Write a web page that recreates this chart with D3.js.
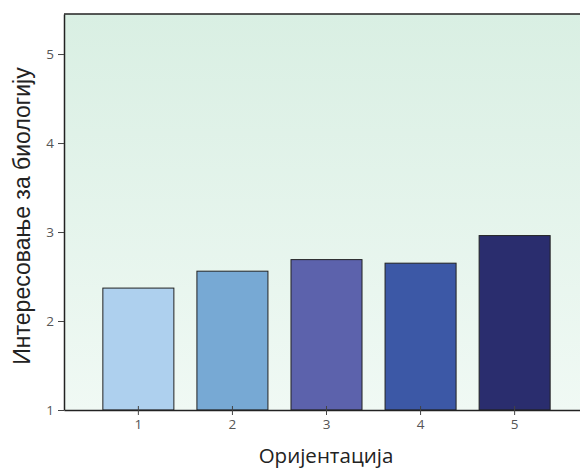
<!DOCTYPE html>
<html>
<head>
<meta charset="utf-8">
<script src="https://cdn.jsdelivr.net/npm/d3@7"></script>
<style>
  html, body { margin: 0; padding: 0; background: #fff; }
  svg { display: block; font-family: "Open Sans", "Noto Sans", sans-serif; }
</style>
</head>
<body>
<svg id="chart" width="580" height="468"></svg>
<script>
// Mean interest in biology by orientation group
const categories = ["1", "2", "3", "4", "5"];
const values = [2.37, 2.56, 2.69, 2.65, 2.96];
const barColors = ["#aed0ee", "#77a9d4", "#5c62ac", "#3c58a6", "#2a2d6e"];
const yTicks = [1, 2, 3, 4, 5];
const xTitle = "Оријентација";
const yTitle = "Интересовање за биологију";

const svg = d3.select("#chart");
const plot = { left: 64, top: 14, right: 589, bottom: 410 };

const x = d3.scaleBand()
  .domain(categories)
  .range([plot.left, plot.right])
  .paddingInner(0.245)
  .paddingOuter(0.413);

const y = d3.scaleLinear()
  .domain([1, 5.45])
  .range([plot.bottom, plot.top]);

// background gradient
const defs = svg.append("defs");
const grad = defs.append("linearGradient")
  .attr("id", "bg").attr("x1", 0).attr("y1", 0).attr("x2", 0).attr("y2", 1);
grad.append("stop").attr("offset", "0%").attr("stop-color", "#d9efe3");
grad.append("stop").attr("offset", "100%").attr("stop-color", "#f0f9f4");

svg.append("rect")
  .attr("x", plot.left).attr("y", plot.top)
  .attr("width", plot.right - plot.left)
  .attr("height", plot.bottom - plot.top)
  .attr("fill", "url(#bg)");

// bars
svg.append("g").selectAll("rect")
  .data(categories)
  .join("rect")
  .attr("x", d => x(d))
  .attr("y", (d, i) => y(values[i]))
  .attr("width", x.bandwidth())
  .attr("height", (d, i) => y(1) - y(values[i]))
  .attr("fill", (d, i) => barColors[i])
  .attr("stroke", "#222")
  .attr("stroke-width", 1);

// top border
svg.append("line")
  .attr("x1", plot.left).attr("x2", plot.right)
  .attr("y1", plot.top).attr("y2", plot.top)
  .attr("stroke", "#222").attr("stroke-width", 1.5);

// axes
const xAxis = svg.append("g")
  .attr("transform", `translate(0,${plot.bottom})`)
  .call(d3.axisBottom(x).tickSize(6).tickSizeOuter(0).tickPadding(3));
const yAxis = svg.append("g")
  .attr("transform", `translate(${plot.left},0)`)
  .call(d3.axisLeft(y).tickValues(yTicks).tickFormat(d3.format("d"))
    .tickSize(6).tickSizeOuter(0).tickPadding(4));

[xAxis, yAxis].forEach(g => {
  g.attr("font-family", null);
  g.select(".domain").attr("stroke", "#222").attr("stroke-width", 1.5);
  g.selectAll(".tick line").attr("stroke", "#444");
  g.selectAll(".tick text")
    .attr("fill", "#555")
    .style("font-size", "13.5px")
    .style("font-family", "'Open Sans', sans-serif");
});
// x ticks cross the axis line
xAxis.selectAll(".tick line").attr("y1", -4).attr("y2", 5);
yAxis.selectAll(".tick line").attr("x2", -6);

// axis titles
svg.append("text")
  .attr("x", 326)
  .attr("y", 463)
  .attr("text-anchor", "middle")
  .attr("fill", "#222")
  .style("font-size", "20.5px")
  .style("font-family", "'Open Sans', sans-serif")
  .text(xTitle);

svg.append("text")
  .attr("transform", `translate(30,216) rotate(-90)`)
  .attr("text-anchor", "middle")
  .attr("fill", "#222")
  .style("font-size", "23px")
  .style("font-family", "'Liberation Sans', Arial, sans-serif")
  .text(yTitle);
</script>
</body>
</html>
